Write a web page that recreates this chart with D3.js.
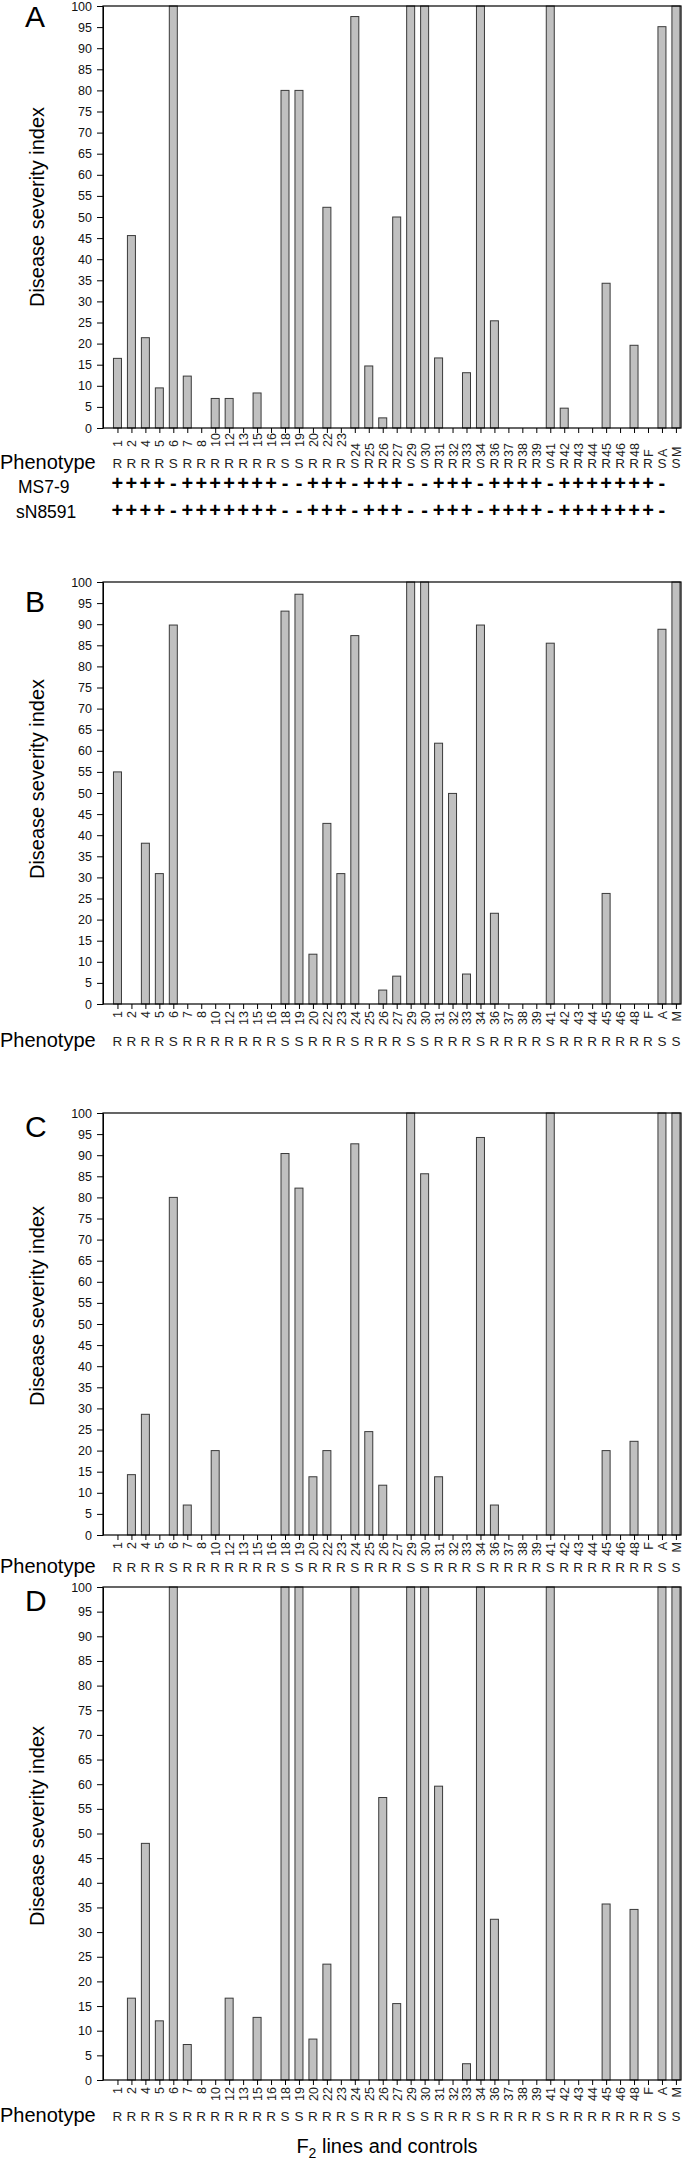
<!DOCTYPE html>
<html>
<head>
<meta charset="utf-8">
<script src="https://cdn.jsdelivr.net/npm/d3@7"></script>
<style>
  body { margin: 0; background: #fff; }
  svg { display: block; font-family: Arial, "Liberation Sans", sans-serif; }
</style>
</head>
<body>
<svg id="chart"></svg>
<script>
var width = 691,
    height = 2167;

// F2 lines and controls (F, A, M)
var lines = ["1","2","4","5","6","7","8","10","12","13","15","16","18","19","20","22","23",
             "24","25","26","27","29","30","31","32","33","34","36","37","38","39",
             "41","42","43","44","45","46","48","F","A","M"];

var phenotype = ["R","R","R","R","S","R","R","R","R","R","R","R","S","S","R","R","R",
                 "S","R","R","R","S","S","R","R","R","S","R","R","R","R",
                 "S","R","R","R","R","R","R","R","S","S"];

// marker genotypes (panel A only)
var ms79 = ["+","+","+","+","-","+","+","+","+","+","+","+","-","-","+","+","+",
            "-","+","+","+","-","-","+","+","+","-","+","+","+","+",
            "-","+","+","+","+","+","+","+","-",""];
var sN8591 = ["+","+","+","+","-","+","+","+","+","+","+","+","-","-","+","+","+",
              "-","+","+","+","-","-","+","+","+","-","+","+","+","+",
              "-","+","+","+","+","+","+","+","-",""];

// disease severity index per panel
var severityA = [16.5,45.6,21.4,9.5,100,12.3,0,7,7,0,8.3,0,80,80,0,52.3,0,
                 97.5,14.7,2.4,50,100,100,16.6,0,13.1,100,25.4,0,0,0,
                 100,4.7,0,0,34.3,0,19.6,0,95.1,100];
var severityB = [55,0,38.1,30.9,89.8,0,0,0,0,0,0,0,93.1,97.1,11.8,42.8,30.9,
                 87.3,0,3.3,6.6,100,100,61.8,49.9,7.1,89.8,21.5,0,0,0,
                 85.5,0,0,0,26.2,0,0,0,88.8,100];
var severityC = [0,14.3,28.6,0,80,7.1,0,20,0,0,0,0,90.4,82.2,13.8,20,0,
                 92.7,24.5,11.8,0,100,85.6,13.8,0,0,94.2,7.1,0,0,0,
                 100,0,0,0,20,0,22.2,0,100,100];
var severityD = [0,16.6,48,12,100,7.2,0,0,16.6,0,12.7,0,100,100,8.3,23.5,0,
                 100,0,57.3,15.5,100,100,59.6,0,3.3,100,32.6,0,0,0,
                 100,0,0,0,35.7,0,34.6,0,100,100];

var yTicks = [0,5,10,15,20,25,30,35,40,45,50,55,60,65,70,75,80,85,90,95,100];

// layout of the four stacked panels
var panels = [
  {name: "A", values: severityA, top: 6,    bottom: 428,  letterY: 27,   titleY: 207,  phenoDy: 40, markers: true},
  {name: "B", values: severityB, top: 582,  bottom: 1004, letterY: 612,  titleY: 779,  phenoDy: 42, markers: false},
  {name: "C", values: severityC, top: 1113, bottom: 1535, letterY: 1137, titleY: 1306, phenoDy: 37, markers: false},
  {name: "D", values: severityD, top: 1587, bottom: 2080, letterY: 1611, titleY: 1826, phenoDy: 41, markers: false}
];

var left = 103, right = 681, barW = 8;

var svg = d3.select("#chart")
  .attr("width", width)
  .attr("height", height);

svg.append("rect")
  .attr("width", width)
  .attr("height", height)
  .attr("fill", "#fff");

var x = d3.scalePoint()
  .domain(lines)
  .range([left, right])
  .padding(0.7)
  .align(0.74);

panels.forEach(function(p) {
  var g = svg.append("g");

  var y = d3.scaleLinear()
    .domain([0, 100])
    .range([p.bottom, p.top]);

  // bars
  g.selectAll("rect.bar")
    .data(p.values.map(function(v, i) { return {line: lines[i], v: v}; })
                  .filter(function(d) { return d.v > 0; }))
    .enter().append("rect")
    .attr("class", "bar")
    .attr("x", function(d) { return x(d.line) - barW / 2; })
    .attr("y", function(d) { return y(d.v); })
    .attr("width", barW)
    .attr("height", function(d) { return y(0) - y(d.v); })
    .attr("fill", "#c0c0c0")
    .attr("stroke", "#3a3a3a")
    .attr("stroke-width", 1);

  // frame
  g.append("rect")
    .attr("x", left)
    .attr("y", p.top)
    .attr("width", right - left)
    .attr("height", p.bottom - p.top)
    .attr("fill", "none")
    .attr("stroke", "#000")
    .attr("stroke-width", 1.2);

  // y axis
  var yAxis = g.append("g")
    .attr("transform", "translate(" + left + ",0)")
    .call(d3.axisLeft(y).tickValues(yTicks).tickSize(6).tickSizeOuter(0).tickPadding(5));
  yAxis.select(".domain").attr("stroke", "#000");
  yAxis.selectAll("text")
    .attr("font-size", "12.5px")
    .attr("font-family", "Arial, 'Liberation Sans', sans-serif")
    .attr("fill", "#111");

  // x axis, rotated line numbers
  var xAxis = g.append("g")
    .attr("transform", "translate(0," + p.bottom + ")")
    .call(d3.axisBottom(x).tickSize(5).tickSizeOuter(0));
  xAxis.select(".domain").remove();
  xAxis.selectAll("text")
    .attr("font-size", "12.5px")
    .attr("font-family", "Arial, 'Liberation Sans', sans-serif")
    .attr("fill", "#222")
    .attr("transform", "rotate(-90)")
    .attr("dy", "0.36em")
    .attr("y", 0)
    .each(function(d, i) {
      var t = d3.select(this);
      if (p.markers) {
        t.attr("text-anchor", "start").attr("x", i < 17 ? -19 : -29);
      } else {
        t.attr("text-anchor", "end").attr("x", -7);
      }
    });

  // phenotype row
  var phY = p.bottom + p.phenoDy;
  g.append("text")
    .attr("x", 0)
    .attr("y", phY + 1)
    .attr("font-size", "20px")
    .text("Phenotype");
  g.selectAll("text.pheno")
    .data(phenotype)
    .enter().append("text")
    .attr("class", "pheno")
    .attr("x", function(d, i) { return x(lines[i]); })
    .attr("y", phY)
    .attr("text-anchor", "middle")
    .attr("font-size", "13.5px")
    .attr("fill", "#222")
    .text(function(d) { return d; });

  if (p.markers) {
    [{label: "MS7-9", marks: ms79, lx: 18, ly: 493, my: 490},
     {label: "sN8591", marks: sN8591, lx: 16, ly: 518, my: 517}].forEach(function(m) {
      g.append("text")
        .attr("x", m.lx)
        .attr("y", m.ly)
        .attr("font-size", "17.5px")
        .text(m.label);
      g.selectAll(null)
        .data(m.marks)
        .enter().append("text")
        .attr("x", function(d, i) { return x(lines[i]); })
        .attr("y", m.my)
        .attr("text-anchor", "middle")
        .attr("font-size", "20px")
        .attr("font-weight", "bold")
        .text(function(d) { return d; });
    });
  }

  // panel letter
  g.append("text")
    .attr("x", 25)
    .attr("y", p.letterY)
    .attr("font-size", "30px")
    .text(p.name);

  // y title
  g.append("text")
    .attr("transform", "translate(44," + p.titleY + ") rotate(-90)")
    .attr("text-anchor", "middle")
    .attr("font-size", "20px")
    .text("Disease severity index");
});

// x title
var xt = svg.append("text")
  .attr("x", 387)
  .attr("y", 2153)
  .attr("text-anchor", "middle")
  .attr("font-size", "20px");
xt.append("tspan").text("F");
xt.append("tspan").attr("font-size", "14px").attr("dy", 5).text("2");
xt.append("tspan").attr("dy", -5).text(" lines and controls");
</script>
</body>
</html>
